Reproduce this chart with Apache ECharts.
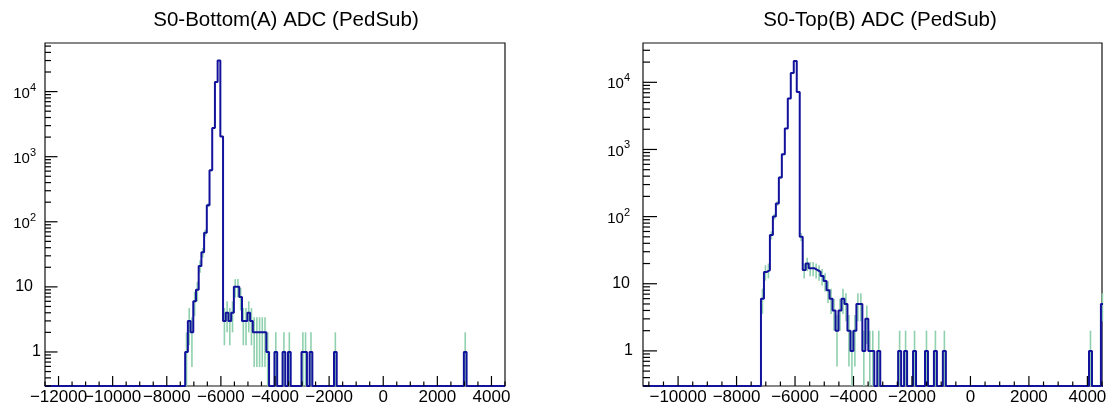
<!DOCTYPE html>
<html><head><meta charset="utf-8">
<script src="https://cdn.jsdelivr.net/npm/echarts@6/dist/echarts.min.js"></script>
<style>html,body{margin:0;padding:0;background:#fff}#c{width:1113px;height:406px}</style>
</head><body><div id="c"></div>
<script>
// ---------- data ----------
const leftTitle = 'S0-Bottom(A) ADC (PedSub)';
const rightTitle = 'S0-Top(B) ADC (PedSub)';
const leftXRange = [-12500, 4500];
const rightXRange = [-11200, 4500];
const leftYRange = [0.3, 55800];
const rightYRange = [0.3, 38500];
const xLabelStep = 2000;
const xMinorStep = 500;

const leftBinStart = -7320;
const leftBinWidth = 100;
const leftCounts = [
  1, 3, 2, 6, 9, 21, 34, 68, 180, 620,
  2760, 14000, 30000, 2050, 3, 4, 3, 4, 10, 10,
  7, 3, 3, 4, 3, 2, 2, 2, 2, 2,
  1, 0, 0, 1, 0, 0, 1, 0, 1, 0,
  0, 0, 0, 1, 1, 0, 1, 0, 0, 0,
  0, 0, 0, 0, 0, 1, 0, 0, 0, 0,
  0, 0, 0, 0, 0, 0, 0, 0, 0, 0,
  0, 0, 0, 0, 0, 0, 0, 0, 0, 0,
  0, 0, 0, 0, 0, 0, 0, 0, 0, 0,
  0, 0, 0, 0, 0, 0, 0, 0, 0, 0,
  0, 0, 0, 1
];

const rightBinStart = -7165;
const rightBinWidth = 102;
const rightCounts = [
  6, 15, 16, 53, 100, 157, 383, 845, 2060, 5720,
  13800, 20700, 7200, 50, 16, 20, 17, 17, 16, 15,
  13, 11, 8, 6, 4, 2, 4, 6, 5, 2,
  1, 2, 5, 5, 1, 3, 1, 1, 0, 1,
  0, 0, 0, 0, 0, 0, 1, 0, 1, 0,
  0, 1, 0, 0, 0, 1, 0, 0, 1, 0,
  0, 1, 0, 0, 0, 0, 0, 0, 0, 0,
  0, 0, 0, 0, 0, 0, 0, 0, 0, 0,
  0, 0, 0, 0, 0, 0, 0, 0, 0, 0,
  0, 0, 0, 0, 0, 0, 0, 0, 0, 0,
  0, 0, 0, 0, 0, 0, 0, 0, 0, 0,
  1, 0, 0, 0, 5
];

// ---------- helpers ----------
const FONT = "'Liberation Sans', Arial, Helvetica, sans-serif";
const LINE_COLOR = '#12129c';
const ERR_COLOR = '#8fd0ae';

function histPoints(start, w, counts, xr, yr) {
  const floor = yr[0];
  const pts = [[xr[0], floor]];
  counts.forEach((c, i) => pts.push([start + i * w, c > 0 ? c : floor]));
  pts.push([start + counts.length * w, floor]);
  pts.push([xr[1], floor]);
  return pts;
}
function errBars(start, w, counts, yr) {
  const out = [];
  counts.forEach((c, i) => {
    if (c > 0) {
      const s = Math.sqrt(c);
      out.push([start + (i + 0.5) * w, Math.max(c - s, yr[0]), c + s]);
    }
  });
  return out;
}
function tickData(xr, yr) {
  const out = [];
  for (let v = Math.ceil(xr[0] / xMinorStep) * xMinorStep; v <= xr[1]; v += xMinorStep) {
    out.push([v, yr[0], v % xLabelStep === 0 ? 0 : 1]);
  }
  const e0 = Math.floor(Math.log10(yr[0])), e1 = Math.ceil(Math.log10(yr[1]));
  for (let e = e0; e <= e1; e++) {
    for (let m = 1; m <= 9; m++) {
      const v = m * Math.pow(10, e);
      if (v >= yr[0] && v <= yr[1]) out.push([xr[0], v, m === 1 ? 2 : 3]);
    }
  }
  return out;
}
function tickRender(lens) {
  return function (params, api) {
    const p = api.coord([api.value(0), api.value(1)]);
    const k = api.value(2);
    let shape;
    if (k < 2) shape = { x1: p[0], y1: p[1], x2: p[0], y2: p[1] - lens[k] };
    else shape = { x1: p[0], y1: p[1], x2: p[0] + lens[k], y2: p[1] };
    return { type: 'line', shape: shape, style: { stroke: '#000', lineWidth: 1.2 } };
  };
}
function errRender(params, api) {
  const a = api.coord([api.value(0), api.value(1)]);
  const b = api.coord([api.value(0), api.value(2)]);
  return { type: 'line', shape: { x1: a[0], y1: a[1], x2: b[0], y2: b[1] },
           style: { stroke: ERR_COLOR, lineWidth: 1.6 } };
}
function xFmt(v) {
  if (Math.abs(v % xLabelStep) > 1e-6) return '';
  return v < 0 ? '\u2212' + Math.abs(v) : String(v);
}
function yFmt(v) {
  const e = Math.round(Math.log10(v));
  if (Math.abs(v - Math.pow(10, e)) / v > 1e-6) return '';
  if (e === 0) return '{one|1}';
  if (e === 1) return '{ten|10}';
  return '{base|10}{sup|' + e + '}';
}
function yRich(tenPad, supPad) {
  return {
    one: { fontSize: 16, fontFamily: FONT, color: '#000' },
    ten: { fontSize: 16, fontFamily: FONT, color: '#000', padding: [0, tenPad, 0, 0] },
    base: { fontSize: 15, fontFamily: FONT, color: '#000', padding: [4, 0, 0, 0] },
    sup: { fontSize: 11, fontFamily: FONT, color: '#000', padding: [0, supPad, 8, 0] }
  };
}

const grids = [
  { left: 45, top: 43, width: 460, height: 344 },
  { left: 643, top: 43, width: 459, height: 344 }
];
const panels = [
  { xr: leftXRange, yr: leftYRange, start: leftBinStart, w: leftBinWidth, counts: leftCounts,
    title: leftTitle, tcx: 281, lens: [10, 4.5, 12.5, 6], ym: 4, tenPad: 8, supPad: 5 },
  { xr: rightXRange, yr: rightYRange, start: rightBinStart, w: rightBinWidth, counts: rightCounts,
    title: rightTitle, tcx: 875, lens: [10, 4.5, 14, 7], ym: 10, tenPad: 3, supPad: 3 }
];

const option = {
  animation: false,
  backgroundColor: '#fff',
  title: panels.map(p => ({
    text: p.title, left: p.tcx, top: 5, textAlign: 'center',
    textStyle: { fontFamily: FONT, fontSize: 20.5, fontWeight: 'normal', color: '#000' }
  })),
  grid: grids.map(g => Object.assign({ show: true, borderColor: '#111', borderWidth: 1.2,
                                       backgroundColor: 'transparent' }, g)),
  xAxis: panels.map((p, i) => ({
    type: 'value', gridIndex: i, min: p.xr[0], max: p.xr[1],
    minInterval: xLabelStep, maxInterval: xLabelStep, splitNumber: 8,
    axisLine: { show: false }, axisTick: { show: false }, splitLine: { show: false },
    axisLabel: { formatter: xFmt, fontFamily: FONT, fontSize: 17, color: '#000', margin: 3 }
  })),
  yAxis: panels.map((p, i) => ({
    type: 'log', logBase: 10, gridIndex: i, min: p.yr[0], max: p.yr[1],
    axisLine: { show: false }, axisTick: { show: false }, splitLine: { show: false },
    axisLabel: { formatter: yFmt, margin: p.ym, rich: yRich(p.tenPad, p.supPad) }
  })),
  series: []
};
panels.forEach((p, i) => {
  option.series.push({
    type: 'custom', xAxisIndex: i, yAxisIndex: i, silent: true, z: 1,
    renderItem: errRender, encode: { x: 0, y: [1, 2] },
    data: errBars(p.start, p.w, p.counts, p.yr)
  });
  option.series.push({
    type: 'line', xAxisIndex: i, yAxisIndex: i, step: 'end', silent: true, z: 2,
    showSymbol: false, symbol: 'none', sampling: null,
    lineStyle: { color: LINE_COLOR, width: 2 },
    data: histPoints(p.start, p.w, p.counts, p.xr, p.yr)
  });
  option.series.push({
    type: 'custom', xAxisIndex: i, yAxisIndex: i, silent: true, z: 3,
    renderItem: tickRender(p.lens), encode: { x: 0, y: 1 },
    data: tickData(p.xr, p.yr)
  });
});
const chart = echarts.init(document.getElementById('c'), null, { renderer: 'canvas' });
chart.setOption(option);
</script>
</body></html>
